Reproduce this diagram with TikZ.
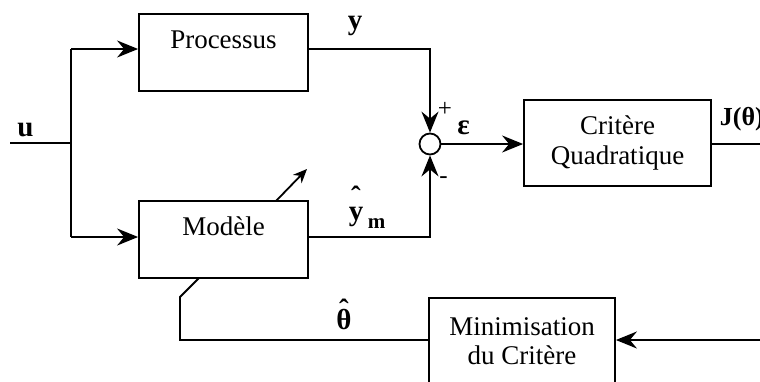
\documentclass[tikz,border=0pt]{standalone}
\usepackage{fontspec}
\setmainfont{Liberation Serif}
\usetikzlibrary{arrows.meta,calc}
\begin{document}
\begin{tikzpicture}[x=1pt,y=-1pt,line width=1.8pt,
  box/.style={draw,rectangle,line width=1.8pt,minimum width=169pt,minimum height=77pt,inner sep=0pt,font=\fontsize{27}{30}\selectfont},
  arr/.style={-{Stealth[length=21pt,width=17pt,inset=7pt]}},
  smallarr/.style={-{Stealth[length=14pt,width=12pt,inset=4.5pt]}},
  lbl/.style={font=\fontsize{29}{32}\selectfont\bfseries,inner sep=0pt},
  sgn/.style={font=\fontsize{25}{28}\selectfont,inner sep=0pt}]
\useasboundingbox (0,0) rectangle (760,381);
\clip (0,0) rectangle (760,381);
% blocks
\node[box,text height=18pt,text depth=26pt] (proc) at (223.5,52.5) {Processus};
\node[box,text height=18pt,text depth=26pt] (mod) at (223.5,239.5) {Modèle};
\node[box,minimum width=187pt,minimum height=86pt,align=center,font=\fontsize{27}{30}\selectfont] (crit) at (617.5,143) {Critère\\Quadratique};
\node[draw,circle,minimum size=21pt,inner sep=0pt,line width=1.8pt] (sum) at (430,144) {};
\node[draw,rectangle,line width=1.8pt,minimum width=186pt,minimum height=130pt,anchor=north,inner sep=0pt] (mini) at (522,297) {};
\node[font=\fontsize{27}{29}\selectfont,align=center,inner sep=0pt] (minitxt) at (522,341) {Minimisation\\du Critère};
% coordinates
\coordinate (uin) at (10,143);
\coordinate (split) at (71,143);
\coordinate (pin) at (71,49);
\coordinate (min) at (71,237);
\coordinate (jout) at (760,144);
\coordinate (fbin) at (760,340);
\coordinate (k0) at (199,278);
\coordinate (k1) at (180,297);
\coordinate (k2) at (180,340);
\coordinate (d0) at (276,201);
\coordinate (d1) at (307,169);
% connectors
\draw (uin) -- (split);
\draw (pin) -- (min);
\draw[arr] (pin) -- (proc.west |- pin);
\draw[arr] (min) -- (mod.west |- min);
\draw[arr] (proc.east |- pin) -| (sum.north);
\draw[arr] (mod.east |- min) -| (sum.south);
\draw[arr] (sum.east) -- (crit.west |- sum);
\draw (crit.east |- sum) -- (jout);
\draw[arr] (fbin) -- (mini.east |- fbin);
\draw (mini.west |- k2) -- (k2) -- (k1) -- (k0);
\draw[smallarr] (d0) -- (d1);
% labels
\node[lbl] (lu) at (25.5,130) {u};
\node[lbl] (ly) at (355,26) {y};
\node[lbl] (leps) at (463.5,128) {ε};
\node[sgn] (lplus) at (445,109) {+};
\node[sgn] (lminus) at (443.5,180) {-};
\node[lbl,font=\fontsize{26}{30}\selectfont\bfseries,anchor=west] (lj) at (719,119) {J(θ)};
\node[lbl,anchor=base] (lym) at (356,220) {\ooalign{y\cr\hidewidth\raisebox{14pt}{ˆ}\hidewidth\cr}};
\node[lbl,font=\fontsize{21}{24}\selectfont\bfseries,anchor=base west] (lm) at (367,228) {m};
\node[lbl,anchor=base] (lth) at (344,329) {\ooalign{θ\cr\hidewidth\raisebox{10pt}{ˆ}\hidewidth\cr}};
\end{tikzpicture}
\end{document}
